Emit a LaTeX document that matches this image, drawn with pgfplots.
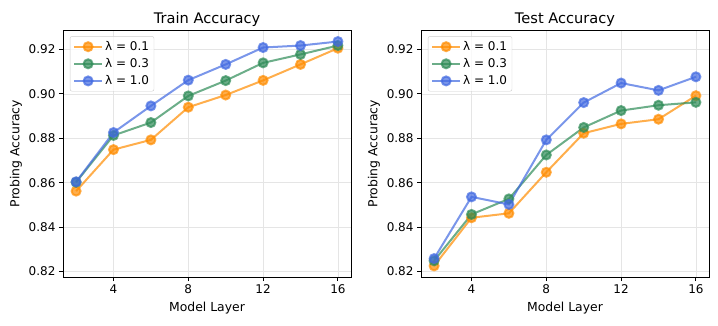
\documentclass[border=0pt]{standalone}
\usepackage{pgfplots}
\pgfplotsset{compat=1.18}
\usepackage{fontspec}
\setmainfont{DejaVu Sans}
\definecolor{cOr}{RGB}{255,140,0}
\definecolor{cGr}{RGB}{46,139,87}
\definecolor{cBl}{RGB}{65,105,225}
\pgfplotsset{
  myax/.style={
    scale only axis, width=288pt, height=247pt,
    xmin=1.3, xmax=16.7, ymin=0.8175, ymax=0.9288,
    xtick={4,8,12,16}, ytick={0.82,0.84,0.86,0.88,0.90,0.92},
    yticklabel style={/pgf/number format/.cd, fixed, fixed zerofill, precision=2},
    /pgf/number format/assume math mode=true,
    tick label style={font=\fontsize{12}{14}\selectfont},
    label style={font=\fontsize{12.4}{14}\selectfont},
    xlabel style={yshift=-2pt},
    title style={font=\fontsize{14.6}{16}\selectfont, yshift=-6pt},
    xlabel={Model Layer}, ylabel={Probing Accuracy},
    tick align=outside, tick pos=left, major tick length=4pt,
    axis line style={line width=0.9pt}, every tick/.style={black, line width=0.9pt},
    grid=major, major grid style={black!10, line width=0.7pt},
    legend cell align=left,
    legend style={at={(0.024,0.975)}, anchor=north west, draw=black!20, rounded corners=2pt,
      fill=white, fill opacity=0.8, text opacity=1, font=\fontsize{12}{14}\selectfont,
      row sep=2.5pt, inner sep=3pt},
    legend image code/.code={
      \draw[mark repeat=2, mark phase=2, #1] plot coordinates {(0pt,0pt) (14pt,0pt) (28pt,0pt)};
    },
    every axis plot/.append style={line width=2pt, mark=*, mark size=4.5pt, opacity=0.7},
  }
}
\begin{document}
\begin{tikzpicture}
\path[use as bounding box] (0,0) rectangle (718pt,325pt);
\begin{axis}[myax, at={(63pt,48pt)}, anchor=south west, title={Train Accuracy}]
\addplot[color=cOr, mark options={fill=cOr, draw=cOr}] coordinates {(2,0.8562) (4,0.8749) (6,0.8793) (8,0.8940) (10,0.8995) (12,0.9061) (14,0.9133) (16,0.9206)};
\addlegendentry{λ = 0.1}
\addplot[color=cGr, mark options={fill=cGr, draw=cGr}] coordinates {(2,0.8602) (4,0.8813) (6,0.8871) (8,0.8991) (10,0.9060) (12,0.9140) (14,0.9178) (16,0.9218)};
\addlegendentry{λ = 0.3}
\addplot[color=cBl, mark options={fill=cBl, draw=cBl}] coordinates {(2,0.8604) (4,0.8826) (6,0.8946) (8,0.9062) (10,0.9133) (12,0.9209) (14,0.9218) (16,0.9236)};
\addlegendentry{λ = 1.0}
\end{axis}
\begin{axis}[myax, at={(421pt,48pt)}, anchor=south west, title={Test Accuracy}]
\addplot[color=cOr, mark options={fill=cOr, draw=cOr}] coordinates {(2,0.8225) (4,0.8442) (6,0.8462) (8,0.8647) (10,0.8823) (12,0.8865) (14,0.8886) (16,0.8992)};
\addlegendentry{λ = 0.1}
\addplot[color=cGr, mark options={fill=cGr, draw=cGr}] coordinates {(2,0.8248) (4,0.8457) (6,0.8527) (8,0.8725) (10,0.8849) (12,0.8925) (14,0.8949) (16,0.8962)};
\addlegendentry{λ = 0.3}
\addplot[color=cBl, mark options={fill=cBl, draw=cBl}] coordinates {(2,0.8258) (4,0.8536) (6,0.8502) (8,0.8793) (10,0.8961) (12,0.9049) (14,0.9016) (16,0.9077)};
\addlegendentry{λ = 1.0}
\end{axis}
\end{tikzpicture}
\end{document}
